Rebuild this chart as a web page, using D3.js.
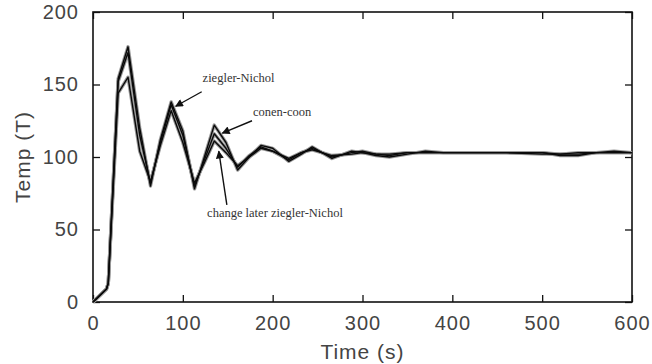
<!DOCTYPE html>
<html>
<head>
<meta charset="utf-8">
<script src="https://cdn.jsdelivr.net/npm/d3@7"></script>
<style>
  body { margin: 0; background: #fff; }
  svg { display: block; }
</style>
</head>
<body>
<div id="root"></div>
<script>
// sample times (s), shared by the three responses
const times = [0, 15, 17, 28, 39, 52, 64, 75, 87, 100, 113, 124, 135, 148, 161, 174, 187, 200, 218, 232, 244, 266, 288, 300, 315, 330, 350, 370, 390, 420, 460, 500, 520, 540, 560, 580, 600];

const conenCoon = [0, 9, 13, 154, 176, 120, 80, 112, 138, 118, 78, 100, 122, 110, 91, 100, 108, 106, 97, 102, 107, 99, 104, 103, 101, 100, 102, 104, 103, 103, 103, 103, 102, 102, 103, 104, 103];
const zieglerNichol = [0, 9, 13, 152, 172, 115, 82, 110, 136, 115, 80, 98, 116, 106, 93, 101, 107, 104, 98, 103, 106, 100, 103, 104, 102, 101, 103, 103, 103, 103, 103, 102, 102, 103, 103, 103, 103];
const changeLater = [0, 9, 13, 144, 155, 104, 83, 108, 132, 110, 82, 96, 111, 103, 94, 100, 106, 104, 99, 103, 105, 101, 102, 103, 102, 102, 103, 103, 103, 103, 103, 103, 101, 101, 103, 103, 103];

const xTicks = [0, 100, 200, 300, 400, 500, 600];
const yTicks = [0, 50, 100, 150, 200];

// annotations: label, label anchor [t, T], arrow tail [t, T], arrow tip [t, T]
const notes = [
  { text: "ziegler-Nichol", at: [122, 152], from: [121, 145], to: [92, 135] },
  { text: "conen-coon", at: [178, 128], from: [177, 125], to: [144, 116.5] },
  { text: "change later ziegler-Nichol", at: [127, 58.6], from: [149, 67], to: [140, 104] }
];

const W = 652, H = 364;
const pLeft = 93, pRight = 632, pTop = 12, pBottom = 302;

const svg = d3.select('#root').append('svg')
  .attr('width', W).attr('height', H);

const x = d3.scaleLinear().domain([0, 600]).range([pLeft, pRight]);
const y = d3.scaleLinear().domain([0, 200]).range([pBottom, pTop]);

const tickFont = '"Liberation Sans", Arial, sans-serif';

// inward ticks on all four sides, MATLAB style
svg.append('g').attr('transform', `translate(0,${pBottom})`)
  .call(d3.axisBottom(x).tickValues(xTicks).tickSizeInner(-7).tickSizeOuter(0).tickPadding(14))
  .call(g => g.select('.domain').remove());
svg.append('g').attr('transform', `translate(0,${pTop})`)
  .call(d3.axisTop(x).tickValues(xTicks).tickSizeInner(-7).tickSizeOuter(0).tickFormat(''))
  .call(g => g.select('.domain').remove());
svg.append('g').attr('transform', `translate(${pLeft},0)`)
  .call(d3.axisLeft(y).tickValues(yTicks).tickSizeInner(-7).tickSizeOuter(0).tickPadding(14))
  .call(g => g.select('.domain').remove());
svg.append('g').attr('transform', `translate(${pRight},0)`)
  .call(d3.axisRight(y).tickValues(yTicks).tickSizeInner(-7).tickSizeOuter(0).tickFormat(''))
  .call(g => g.select('.domain').remove());

svg.selectAll('.tick line').attr('stroke', '#111').attr('stroke-width', 1.3);
svg.selectAll('.tick text')
  .attr('font-family', tickFont)
  .attr('font-size', 20)
  .attr('letter-spacing', 1)
  .attr('fill', '#444');

// frame
svg.append('rect')
  .attr('x', pLeft).attr('y', pTop)
  .attr('width', pRight - pLeft).attr('height', pBottom - pTop)
  .attr('fill', 'none').attr('stroke', '#111').attr('stroke-width', 1.6);

const line = d3.line()
  .x((d, i) => x(times[i]))
  .y(d => y(d));

[changeLater, zieglerNichol, conenCoon].forEach(s => {
  svg.append('path')
    .datum(s)
    .attr('d', line)
    .attr('fill', 'none')
    .attr('stroke', '#999')
    .attr('stroke-width', 3.4)
    .attr('stroke-linejoin', 'round');
});
[changeLater, zieglerNichol, conenCoon].forEach(s => {
  svg.append('path')
    .datum(s)
    .attr('d', line)
    .attr('fill', 'none')
    .attr('stroke', '#0a0a0a')
    .attr('stroke-width', 1.4)
    .attr('stroke-linejoin', 'round');
});

// arrowhead
svg.append('defs').append('marker')
  .attr('id', 'head')
  .attr('viewBox', '0 0 10 10')
  .attr('refX', 9).attr('refY', 5)
  .attr('markerWidth', 10).attr('markerHeight', 8)
  .attr('markerUnits', 'userSpaceOnUse')
  .attr('orient', 'auto')
  .append('path').attr('d', 'M0,0L10,5L0,10z').attr('fill', '#111');

notes.forEach(n => {
  svg.append('line')
    .attr('x1', x(n.from[0])).attr('y1', y(n.from[1]))
    .attr('x2', x(n.to[0])).attr('y2', y(n.to[1]))
    .attr('stroke', '#111').attr('stroke-width', 1.4)
    .attr('marker-end', 'url(#head)');
  svg.append('text')
    .attr('x', x(n.at[0])).attr('y', y(n.at[1]))
    .attr('font-family', '"Liberation Serif", "DejaVu Serif", serif')
    .attr('font-size', 12.5)
    .attr('fill', '#333')
    .text(n.text);
});

// axis titles
svg.append('text')
  .attr('x', (pLeft + pRight) / 2).attr('y', 359)
  .attr('text-anchor', 'middle')
  .attr('font-family', tickFont).attr('font-size', 21).attr('letter-spacing', 1).attr('fill', '#444')
  .text('Time (s)');
svg.append('text')
  .attr('transform', `translate(30,${(pTop + pBottom) / 2}) rotate(-90)`)
  .attr('text-anchor', 'middle')
  .attr('font-family', tickFont).attr('font-size', 21).attr('letter-spacing', 1).attr('fill', '#444')
  .text('Temp (T)');
</script>
</body>
</html>
